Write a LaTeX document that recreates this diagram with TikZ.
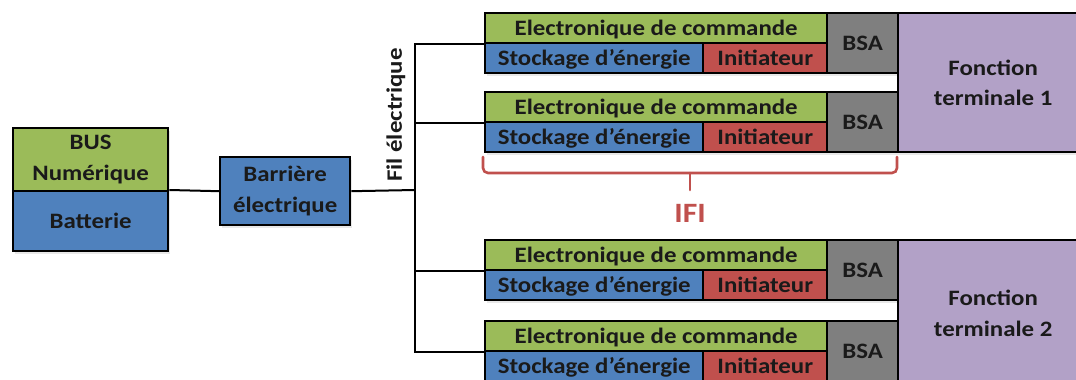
\documentclass[tikz,border=0pt]{standalone}
\usepackage{fontspec}
\setmainfont{Carlito}[FakeStretch=1.13]
\usetikzlibrary{shadows}
\definecolor{cgreen}{HTML}{9BBB59}
\definecolor{cblue}{HTML}{4F81BD}
\definecolor{cred}{HTML}{C0504D}
\definecolor{cgray}{HTML}{7F7F7F}
\definecolor{cpurple}{HTML}{B2A1C7}
\definecolor{ctext}{HTML}{1A1A1A}
\begin{document}
\begin{tikzpicture}[x=1pt,y=-1pt,
  cell/.style={draw=black, line width=2.4pt, inner sep=0pt, anchor=north west,
    font=\bfseries\fontsize{22}{30.5}\selectfont, text=ctext,
    drop shadow={opacity=0.18, shadow xshift=1.5pt, shadow yshift=-3pt}},
  multi/.style={align=center},
  strip/.style={minimum height=30pt, text height=18pt, text depth=4pt},
  wire/.style={draw=black, line width=2pt},
  bracec/.style={draw=cred, line width=2.6pt, line cap=round}]
\path[use as bounding box, clip] (0,0) rectangle (1076,380);
\coordinate (bt) at (415,190);
% modules
\foreach \p/\y in {a/12, b/91, c/239, d/320}{
  \node[cell, strip, fill=cgreen, minimum width=342pt] (\p g) at (484,\y) {Electronique de commande};
  \node[cell, strip, fill=cblue, minimum width=218pt] (\p s) at (484,\y+30) {Stockage d’énergie};
  \node[cell, strip, fill=cred, minimum width=124pt] (\p i) at (702,\y+30) {Initiateur};
  \node[cell, fill=cgray, minimum width=71pt, minimum height=60pt] (\p b) at (826,\y) {BSA};
}
\node[cell, multi, fill=cpurple, minimum width=190pt, minimum height=139pt] (f1) at (897,12) {Fonction\\terminale 1};
\node[cell, multi, fill=cpurple, minimum width=190pt, minimum height=146pt] (f2) at (897,239) {Fonction\\terminale 2};
% left side
\node[cell, multi, fill=cgreen, minimum width=155pt, minimum height=63pt] (bus) at (12,127) {BUS\\Numérique};
\node[cell, fill=cblue, minimum width=155pt, minimum height=60pt] (bat) at (12,190) {Batterie};
\node[cell, multi, fill=cblue, minimum width=130pt, minimum height=68pt] (bar) at (219,156) {Barrière\\électrique};
% wires
\draw[wire] (bat.north east) -- (bar.west);
\draw[wire] (bar.east) -- (bt);
\draw[wire] (ag.south west) -| (bt) |- (dg.south west);
\draw[wire] (bt) |- (bg.south west);
\draw[wire] (bt) |- (cg.south west);
\node[rotate=90, font=\bfseries\fontsize{22}{30}\selectfont, text=ctext, inner sep=0pt] (fil) at (396,115) {Fil électrique};
% brace
\draw[bracec, rounded corners=5pt] (483,157) -- (483,173) -- (897,173) -- (897,157);
\draw[bracec] (690,173) -- (690,190);
\node[font=\bfseries\fontsize{28}{32}\selectfont, text=cred] (ifi) at (690,213) {IFI};
\end{tikzpicture}
\end{document}
